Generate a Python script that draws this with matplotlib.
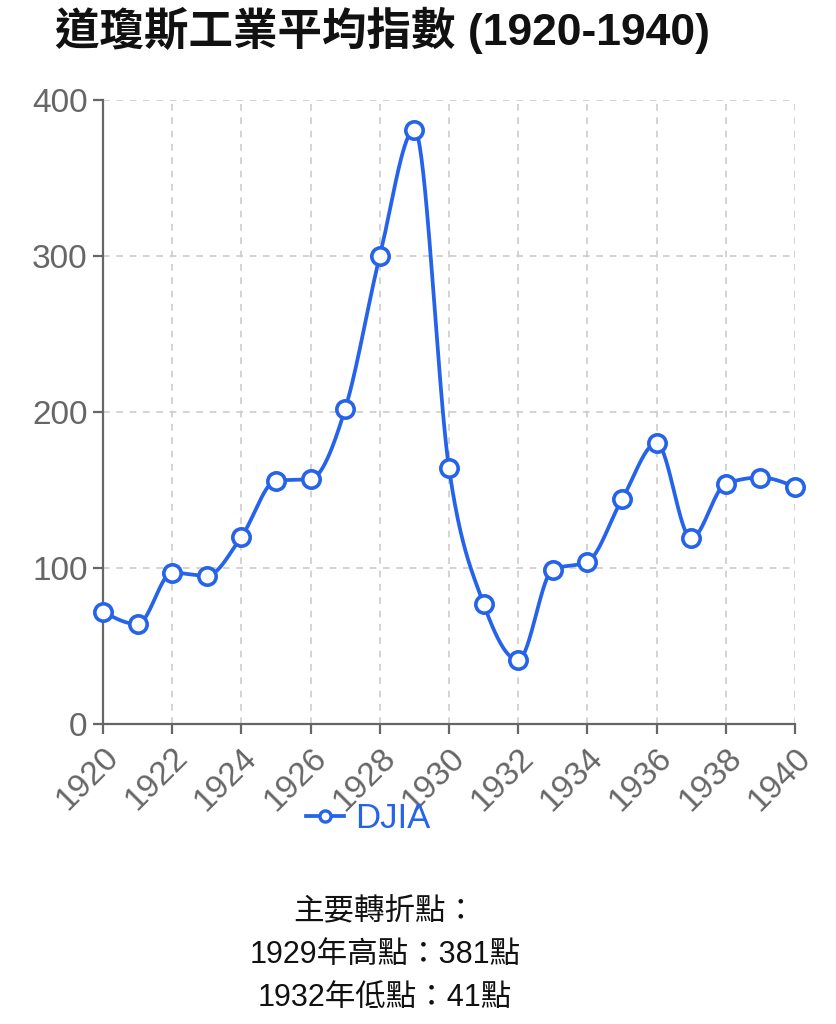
import numpy as np
import matplotlib
matplotlib.use("Agg")
import matplotlib.pyplot as plt
from matplotlib.lines import Line2D

years = [1920, 1921, 1922, 1923, 1924, 1925, 1926, 1927, 1928, 1929, 1930,
         1931, 1932, 1933, 1934, 1935, 1936, 1937, 1938, 1939, 1940]
djia = [72, 64, 97, 95, 120, 156, 157, 202, 300, 381, 164,
        77, 41, 99, 104, 144, 180, 119, 154, 158, 152]
x_ticks = list(range(1920, 1941, 2))
y_ticks = [0, 100, 200, 300, 400]
title = "道瓊斯工業平均指數 (1920-1940)"
series_name = "DJIA"
notes = ["主要轉折點：", "1929年高點：381點", "1932年低點：41點"]

BLUE = "#2563eb"
GRAY = "#666666"
FONT = ["Liberation Sans", "Noto Sans CJK TC", "DejaVu Sans"]
plt.rcParams["font.family"] = FONT


def monotone_curve(xs, ys, n=40):
    xs = np.asarray(xs, float)
    ys = np.asarray(ys, float)
    m = len(xs)
    t = np.zeros(m)
    for i in range(1, m - 1):
        h0 = xs[i] - xs[i - 1]
        h1 = xs[i + 1] - xs[i]
        s0 = (ys[i] - ys[i - 1]) / h0
        s1 = (ys[i + 1] - ys[i]) / h1
        p = (s0 * h1 + s1 * h0) / (h0 + h1)
        t[i] = (np.sign(s0) + np.sign(s1)) * min(abs(s0), abs(s1), 0.5 * abs(p))
    h = xs[1] - xs[0]
    t[0] = (3 * (ys[1] - ys[0]) / h - t[1]) / 2
    h = xs[-1] - xs[-2]
    t[-1] = (3 * (ys[-1] - ys[-2]) / h - t[-2]) / 2
    px, py = [], []
    for i in range(m - 1):
        x0, x1 = xs[i], xs[i + 1]
        y0, y1 = ys[i], ys[i + 1]
        dx = (x1 - x0) / 3
        c = [(x0, y0), (x0 + dx, y0 + dx * t[i]), (x1 - dx, y1 - dx * t[i + 1]), (x1, y1)]
        u = np.linspace(0, 1, n)
        bx = ((1 - u) ** 3) * c[0][0] + 3 * ((1 - u) ** 2) * u * c[1][0] + 3 * (1 - u) * u ** 2 * c[2][0] + u ** 3 * c[3][0]
        by = ((1 - u) ** 3) * c[0][1] + 3 * ((1 - u) ** 2) * u * c[1][1] + 3 * (1 - u) * u ** 2 * c[2][1] + u ** 3 * c[3][1]
        px.extend(bx)
        py.extend(by)
    return np.array(px), np.array(py)


fig = plt.figure(figsize=(8.37, 10.24), dpi=100)
ax = fig.add_axes([103 / 837, 1 - 724 / 1024, (795 - 103) / 837, (724 - 100) / 1024])

cx, cy = monotone_curve(years, djia)
ax.plot(cx, cy, color=BLUE, lw=2.7, zorder=3, solid_capstyle="round", clip_on=False)
ax.plot(years, djia, linestyle="none", marker="o", markersize=12.5,
        markerfacecolor="white", markeredgecolor=BLUE, markeredgewidth=2.6,
        zorder=4, clip_on=False)

ax.set_xlim(1920, 1940)
ax.set_ylim(0, 400)
ax.set_xticks(x_ticks)
ax.set_yticks(y_ticks)
ax.set_xticklabels([str(v) for v in x_ticks], rotation=45, ha="right",
                   rotation_mode="anchor", fontsize=24, color=GRAY)
ax.set_yticklabels([str(v) for v in y_ticks], fontsize=24, color=GRAY)
ax.tick_params(axis="both", length=7, width=1.6, color=GRAY)
ax.tick_params(axis="y", pad=4)
ax.tick_params(axis="x", pad=6)
for s in ["top", "right"]:
    ax.spines[s].set_visible(False)
for s in ["left", "bottom"]:
    ax.spines[s].set_color(GRAY)
    ax.spines[s].set_linewidth(1.6)
ax.grid(True, color="#cccccc", linestyle=(0, (4, 4)), linewidth=1.2, zorder=0)
ax.set_axisbelow(True)

fig.text(55 / 837, 1 - 30 / 1024, title, fontsize=32, fontweight="bold",
         ha="left", va="center", color="#111111")

handle = Line2D([], [], color=BLUE, lw=2.7, marker="o", markersize=8,
                markerfacecolor="white", markeredgecolor=BLUE, markeredgewidth=2.4)
leg = fig.legend([handle], [series_name], loc="center", bbox_to_anchor=(368 / 837, 1 - 819 / 1024),
                 frameon=False, fontsize=25, handlelength=1.1, handletextpad=0.3,
                 labelcolor=BLUE)

for i, line in enumerate(notes):
    fig.text(385 / 837, 1 - (912 + i * 43) / 1024, line, fontsize=22,
             ha="center", va="center", color="#111111")

fig.savefig("out.png", dpi=100)
